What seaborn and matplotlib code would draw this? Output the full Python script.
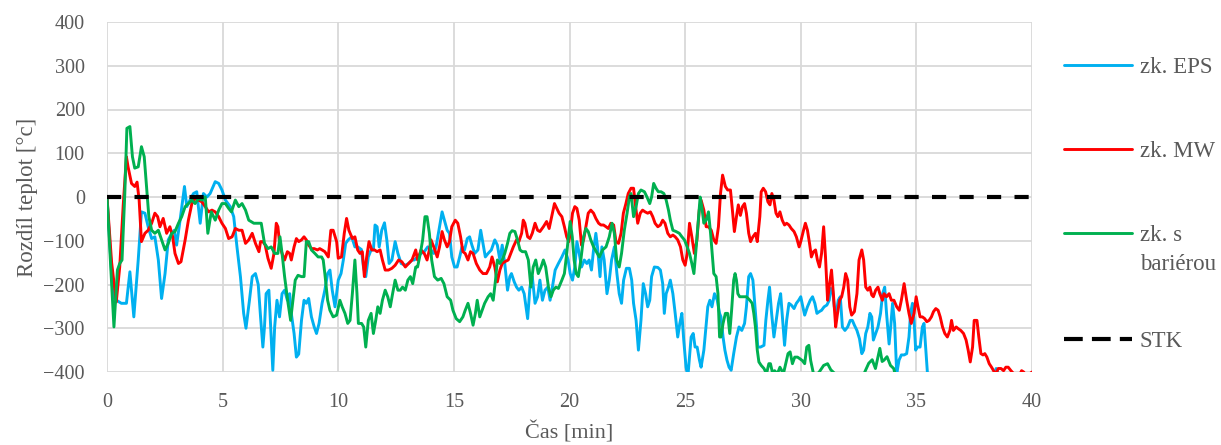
import matplotlib
matplotlib.use("Agg")
import matplotlib.pyplot as plt
from matplotlib.lines import Line2D
import pandas as pd
import seaborn as sns

# (cas [min], rozdil teplot [°C])
eps = [
    (0, 0), (0.26, -228), (0.41, -236), (0.62, -243), (0.84, -243), (0.99, -171), (1.16, -274),
    (1.35, -144), (1.49, -34), (1.64, -37), (1.78, -68), (1.93, -95), (2.07, -91), (2.22, -144),
    (2.36, -232), (2.51, -175), (2.65, -98), (2.80, -83), (2.91, -76), (3.01, -110), (3.16, -53),
    (3.35, 24), (3.45, -22), (3.59, -7), (3.74, 8), (3.88, 12), (4.03, -60), (4.17, 8), (4.32, 0),
    (4.46, 8), (4.68, 35), (4.83, 31), (4.97, 16), (5.12, -7), (5.33, -22), (5.48, -45),
    (5.62, -114), (5.77, -182), (5.91, -266), (6.01, -300), (6.16, -236), (6.28, -182),
    (6.42, -175), (6.54, -200), (6.64, -274), (6.74, -343), (6.81, -297), (6.88, -221),
    (7.00, -213), (7.10, -320), (7.17, -396), (7.25, -297), (7.35, -236), (7.46, -274),
    (7.57, -221), (7.68, -213), (7.80, -236), (7.90, -221), (7.97, -266), (8.09, -312),
    (8.19, -366), (8.29, -359), (8.41, -282), (8.52, -236), (8.62, -243), (8.72, -232),
    (8.84, -274), (8.96, -297), (9.06, -312), (9.17, -289), (9.30, -243), (9.42, -213),
    (9.54, -175), (9.64, -167), (9.74, -213), (9.86, -251), (10.00, -190), (10.12, -175),
    (10.22, -144), (10.32, -106), (10.43, -98), (10.58, -91), (10.72, -114), (10.84, -114),
    (11.00, -120), (11.09, -160), (11.19, -182), (11.30, -137), (11.42, -121), (11.52, -121),
    (11.59, -64), (11.68, -68), (11.77, -114), (11.88, -76), (12.00, -59), (12.10, -98),
    (12.20, -152), (12.32, -144), (12.46, -102), (12.58, -129), (12.72, -152), (12.90, -156),
    (13.04, -152), (13.19, -144), (13.29, -144), (13.43, -137), (13.58, -129), (13.72, -125),
    (13.87, -114), (14.01, -121), (14.13, -129), (14.23, -114), (14.38, -68), (14.49, -34),
    (14.59, -53), (14.71, -76), (14.81, -83), (14.91, -137), (15.03, -160), (15.14, -160),
    (15.25, -137), (15.35, -114), (15.46, -121), (15.58, -95), (15.68, -91), (15.78, -110),
    (15.90, -129), (16.04, -121), (16.16, -76), (16.26, -106), (16.36, -137), (16.48, -129),
    (16.62, -121), (16.77, -98), (16.88, -110), (16.99, -144), (17.09, -110), (17.20, -152),
    (17.32, -213), (17.42, -182), (17.49, -175), (17.61, -194), (17.71, -206), (17.81, -213),
    (17.93, -206), (18.04, -221), (18.19, -278), (18.29, -206), (18.39, -182), (18.51, -243),
    (18.62, -228), (18.72, -190), (18.83, -236), (18.94, -213), (19.06, -206), (19.16, -236),
    (19.26, -206), (19.38, -167), (19.52, -152), (19.67, -137), (19.81, -121), (19.94, -144),
    (20.03, -175), (20.13, -190), (20.23, -160), (20.32, -102), (20.42, -129), (20.52, -160),
    (20.64, -144), (20.75, -152), (20.85, -144), (20.95, -167), (21.04, -121), (21.14, -83),
    (21.21, -114), (21.32, -182), (21.40, -114), (21.50, -144), (21.62, -221), (21.72, -190),
    (21.82, -144), (21.94, -114), (22.05, -175), (22.15, -221), (22.25, -243), (22.34, -190),
    (22.46, -163), (22.59, -163), (22.69, -190), (22.77, -243), (22.88, -282), (22.98, -350),
    (23.09, -282), (23.19, -198), (23.29, -221), (23.38, -251), (23.47, -236), (23.55, -182),
    (23.67, -160), (23.82, -161), (23.93, -167), (24.03, -198), (24.10, -266), (24.18, -221),
    (24.28, -206), (24.36, -190), (24.47, -221), (24.57, -266), (24.68, -320), (24.77, -289),
    (24.86, -266), (24.94, -327), (25.04, -389), (25.12, -410), (25.19, -366), (25.26, -320),
    (25.35, -312), (25.43, -343), (25.52, -343), (25.62, -373), (25.69, -389), (25.81, -350),
    (25.90, -297), (25.98, -251), (26.07, -236), (26.16, -251), (26.27, -221), (26.39, -236),
    (26.49, -266), (26.55, -274), (26.64, -320), (26.72, -350), (26.81, -373), (26.90, -389),
    (26.99, -396), (27.10, -358), (27.22, -320), (27.33, -297), (27.45, -305), (27.57, -289),
    (27.65, -251), (27.75, -182), (27.83, -175), (27.93, -190), (28.00, -236), (28.09, -297),
    (28.14, -343), (28.26, -343), (28.41, -339), (28.49, -282), (28.58, -236), (28.65, -206),
    (28.74, -266), (28.84, -320), (28.94, -282), (29.04, -243), (29.13, -221), (29.22, -282),
    (29.30, -339), (29.39, -282), (29.49, -243), (29.59, -247), (29.71, -255), (29.81, -243),
    (29.91, -236), (30.00, -228), (30.09, -251), (30.17, -270), (30.29, -251), (30.41, -236),
    (30.51, -228), (30.61, -243), (30.70, -266), (30.80, -262), (30.90, -259), (31.01, -251),
    (31.13, -247), (31.23, -236), (31.30, -209), (31.38, -213), (31.45, -251), (31.54, -266),
    (31.62, -236), (31.71, -228), (31.80, -297), (31.91, -305), (32.03, -297), (32.14, -282),
    (32.23, -282), (32.32, -293), (32.43, -305), (32.54, -324), (32.64, -358), (32.72, -350),
    (32.81, -312), (32.90, -297), (32.99, -266), (33.07, -274), (33.14, -327), (33.24, -312),
    (33.34, -297), (33.45, -266), (33.54, -221), (33.63, -206), (33.71, -266), (33.82, -336),
    (33.89, -297), (33.97, -243), (34.06, -289), (34.15, -404), (34.25, -373), (34.35, -361),
    (34.47, -361), (34.58, -358), (34.68, -320), (34.75, -266), (34.83, -243), (34.90, -282),
    (34.97, -350), (35.04, -343), (35.16, -343), (35.26, -297), (35.33, -289), (35.40, -343),
    (35.48, -404), (35.60, -450), (36.5, -480), (38.3, -420), (38.45, -392), (38.55, -405),
    (38.7, -440), (40.0, -460),
]

mw = [
    (0, 0), (0.2, -150), (0.4, -240), (0.55, -160), (0.7, -20), (0.84, 92), (0.91, 69),
    (1.06, 31), (1.20, 24), (1.30, 34), (1.39, -7), (1.49, -102), (1.64, -83), (1.78, -76),
    (1.93, -60), (2.07, -37), (2.19, -45), (2.29, -68), (2.43, -49), (2.58, -83), (2.72, -68),
    (2.84, -91), (2.94, -129), (3.09, -152), (3.20, -148), (3.38, -98), (3.52, -53), (3.67, -15),
    (3.81, -3), (3.96, -7), (4.10, -11), (4.25, -22), (4.39, -34), (4.54, -30), (4.68, -34),
    (4.83, -45), (4.97, -60), (5.12, -72), (5.26, -95), (5.41, -91), (5.55, -72), (5.70, -76),
    (5.84, -76), (5.99, -106), (6.13, -98), (6.28, -83), (6.42, -106), (6.57, -125),
    (6.64, -102), (6.74, -102), (6.84, -110), (6.96, -140), (7.10, -163), (7.22, -129),
    (7.32, -60), (7.39, -68), (7.48, -114), (7.57, -129), (7.68, -144), (7.80, -125),
    (7.90, -129), (7.97, -144), (8.09, -114), (8.19, -95), (8.29, -102), (8.41, -98),
    (8.52, -91), (8.62, -98), (8.72, -110), (8.84, -118), (8.96, -118), (9.10, -121),
    (9.20, -118), (9.30, -121), (9.42, -125), (9.57, -137), (9.68, -76), (9.78, -76),
    (9.93, -102), (10.00, -140), (10.14, -137), (10.26, -83), (10.36, -49), (10.46, -76),
    (10.61, -95), (10.72, -91), (10.84, -121), (10.94, -129), (11.04, -125), (11.13, -182),
    (11.23, -137), (11.33, -102), (11.45, -121), (11.57, -121), (11.68, -125), (11.81, -121),
    (11.91, -144), (12.03, -167), (12.17, -167), (12.32, -163), (12.46, -156), (12.61, -144),
    (12.75, -148), (12.90, -160), (13.04, -152), (13.19, -144), (13.35, -121), (13.43, -144),
    (13.58, -121), (13.72, -129), (13.84, -144), (13.94, -121), (14.01, -98), (14.13, -114),
    (14.28, -137), (14.38, -114), (14.49, -79), (14.59, -98), (14.71, -114), (14.81, -102),
    (14.91, -68), (15.06, -53), (15.17, -60), (15.29, -91), (15.39, -125), (15.49, -129),
    (15.61, -144), (15.72, -125), (15.83, -129), (15.97, -152), (16.12, -167), (16.26, -175),
    (16.41, -175), (16.55, -160), (16.65, -137), (16.77, -160), (16.88, -194), (16.99, -167),
    (17.09, -152), (17.20, -148), (17.35, -144), (17.46, -129), (17.57, -114), (17.71, -98),
    (17.81, -102), (17.93, -83), (18.00, -53), (18.07, -60), (18.19, -91), (18.29, -95),
    (18.39, -83), (18.51, -60), (18.62, -76), (18.72, -79), (18.87, -68), (19.01, -56),
    (19.12, -72), (19.23, -45), (19.35, -15), (19.45, -26), (19.55, -37), (19.67, -45),
    (19.78, -68), (19.88, -91), (19.97, -102), (20.03, -83), (20.13, -37), (20.23, -22),
    (20.32, -26), (20.42, -53), (20.52, -110), (20.61, -98), (20.71, -68), (20.81, -37),
    (20.92, -30), (21.04, -37), (21.14, -49), (21.26, -60), (21.36, -64), (21.47, -64),
    (21.58, -68), (21.68, -72), (21.79, -60), (21.91, -64), (22.01, -102), (22.12, -106),
    (22.23, -83), (22.33, -37), (22.44, -15), (22.54, 8), (22.66, 20), (22.77, 20),
    (22.86, -22), (22.95, -60), (23.06, -37), (23.16, -30), (23.27, -34), (23.38, -37),
    (23.50, -34), (23.60, -45), (23.70, -60), (23.82, -68), (23.93, -64), (24.03, -53),
    (24.13, -60), (24.25, -83), (24.36, -91), (24.47, -87), (24.57, -91), (24.68, -98),
    (24.80, -114), (24.90, -144), (25.00, -156), (25.09, -129), (25.19, -60), (25.29, -91),
    (25.40, -129), (25.51, -98), (25.61, -30), (25.69, -7), (25.81, -30), (25.91, -68),
    (26.01, -68), (26.13, -76), (26.24, -98), (26.34, -106), (26.44, -68), (26.53, 8),
    (26.62, 50), (26.74, 24), (26.84, 16), (26.96, 16), (27.03, -22), (27.13, -79),
    (27.22, -45), (27.30, -18), (27.39, -42), (27.48, -22), (27.57, -15), (27.65, -37),
    (27.75, -83), (27.83, -102), (27.93, -91), (28.04, -83), (28.12, -102), (28.23, -45),
    (28.29, 12), (28.38, 20), (28.48, 12), (28.58, -11), (28.67, -18), (28.75, 8),
    (28.84, -7), (28.93, -37), (29.01, -45), (29.10, -34), (29.20, -53), (29.30, -64),
    (29.39, -60), (29.49, -64), (29.59, -72), (29.71, -79), (29.81, -91), (29.93, -114),
    (30.00, -102), (30.12, -76), (30.20, -60), (30.29, -76), (30.38, -106), (30.46, -137),
    (30.55, -125), (30.64, -121), (30.72, -144), (30.81, -160), (30.90, -129), (30.99, -68),
    (31.07, -137), (31.16, -236), (31.23, -206), (31.33, -167), (31.42, -228), (31.51, -297),
    (31.59, -266), (31.68, -236), (31.77, -228), (31.86, -206), (31.94, -175), (32.03, -190),
    (32.12, -251), (32.20, -270), (32.32, -262), (32.43, -221), (32.52, -144), (32.64, -121),
    (32.72, -144), (32.81, -206), (32.90, -213), (32.99, -206), (33.07, -224), (33.14, -228),
    (33.24, -213), (33.34, -206), (33.42, -221), (33.53, -236), (33.60, -221), (33.71, -228),
    (33.82, -221), (33.92, -236), (34.03, -236), (34.15, -251), (34.26, -259), (34.35, -236),
    (34.47, -198), (34.58, -236), (34.68, -266), (34.78, -289), (34.90, -266), (34.99, -228),
    (35.07, -251), (35.16, -274), (35.26, -274), (35.36, -278), (35.45, -285), (35.55, -282),
    (35.65, -274), (35.74, -262), (35.84, -255), (35.94, -259), (36.03, -274), (36.13, -297),
    (36.23, -312), (36.34, -320), (36.45, -305), (36.52, -282), (36.60, -305), (36.72, -297),
    (36.81, -301), (36.92, -305), (37.04, -312), (37.15, -327), (37.24, -350), (37.33, -377),
    (37.43, -343), (37.50, -282), (37.62, -282), (37.70, -320), (37.79, -358), (37.88, -361),
    (37.96, -358), (38.05, -366), (38.15, -381), (38.25, -389), (38.37, -400), (38.44, -404),
    (38.54, -392), (38.66, -392), (38.77, -397), (38.87, -389), (38.97, -389), (39.09, -397),
    (39.21, -404), (39.32, -408), (39.45, -408), (39.55, -397), (39.64, -400), (39.74, -408),
    (39.88, -405), (40.0, -400),
]

bariera = [
    (0, 0), (0.30, -297), (0.45, -167), (0.55, -152), (0.65, -144), (0.77, 8), (0.86, 157),
    (0.99, 161), (1.10, 92), (1.20, 66), (1.35, 69), (1.49, 115), (1.61, 92), (1.71, 24),
    (1.81, -45), (1.93, -76), (2.07, -83), (2.22, -76), (2.36, -98), (2.51, -121), (2.65, -106),
    (2.80, -83), (2.94, -79), (3.09, -60), (3.23, -45), (3.38, -22), (3.52, -15), (3.67, -7),
    (3.81, -15), (3.96, -3), (4.10, -7), (4.25, 0), (4.36, -83), (4.51, -34), (4.68, -53),
    (4.83, -30), (4.97, -15), (5.12, -15), (5.26, -26), (5.38, -34), (5.55, -7), (5.70, -22),
    (5.84, -15), (5.99, -30), (6.13, -53), (6.35, -60), (6.57, -60), (6.67, -60), (6.81, -106),
    (6.96, -118), (7.10, -114), (7.25, -129), (7.39, -129), (7.48, -91), (7.57, -129),
    (7.68, -182), (7.83, -243), (7.94, -282), (8.04, -236), (8.14, -190), (8.26, -179),
    (8.41, -182), (8.52, -182), (8.62, -102), (8.72, -102), (8.84, -121), (8.99, -129),
    (9.13, -137), (9.28, -137), (9.35, -144), (9.42, -175), (9.54, -236), (9.64, -259),
    (9.78, -274), (9.93, -270), (10.07, -236), (10.17, -251), (10.29, -266), (10.41, -289),
    (10.51, -282), (10.61, -221), (10.72, -144), (10.81, -221), (10.87, -289), (11.01, -289),
    (11.10, -297), (11.19, -343), (11.30, -282), (11.42, -266), (11.52, -312), (11.62, -282),
    (11.71, -251), (11.81, -266), (11.91, -236), (12.03, -213), (12.14, -228), (12.25, -251),
    (12.35, -221), (12.46, -190), (12.58, -213), (12.68, -213), (12.78, -206), (12.90, -213),
    (13.01, -190), (13.12, -182), (13.22, -198), (13.35, -160), (13.43, -160), (13.55, -129),
    (13.65, -98), (13.75, -45), (13.84, -45), (13.94, -83), (14.04, -144), (14.16, -182),
    (14.30, -190), (14.45, -186), (14.57, -198), (14.71, -228), (14.86, -236), (14.96, -259),
    (15.10, -278), (15.25, -285), (15.39, -274), (15.49, -259), (15.61, -243), (15.72, -266),
    (15.83, -293), (15.93, -266), (16.01, -236), (16.12, -274), (16.22, -259), (16.33, -243),
    (16.48, -228), (16.59, -221), (16.70, -236), (16.80, -190), (16.88, -144), (16.99, -152),
    (17.09, -144), (17.20, -129), (17.32, -106), (17.42, -83), (17.52, -77), (17.64, -79),
    (17.75, -98), (17.86, -121), (17.96, -125), (18.10, -125), (18.22, -144), (18.33, -206),
    (18.43, -160), (18.54, -144), (18.65, -175), (18.77, -160), (18.87, -144), (18.97, -160),
    (19.09, -206), (19.20, -228), (19.30, -213), (19.41, -206), (19.52, -209), (19.67, -190),
    (19.78, -175), (19.88, -129), (19.97, -83), (20.03, -56), (20.12, -91), (20.20, -144),
    (20.29, -175), (20.38, -182), (20.49, -144), (20.61, -91), (20.71, -72), (20.81, -79),
    (20.92, -98), (21.04, -114), (21.16, -125), (21.29, -137), (21.43, -121), (21.58, -114),
    (21.72, -91), (21.84, -60), (21.94, -83), (22.04, -144), (22.15, -160), (22.25, -129),
    (22.37, -76), (22.49, -37), (22.59, 0), (22.66, 8), (22.77, -45), (22.88, -22), (22.98, 8),
    (23.09, 16), (23.24, 12), (23.35, 0), (23.47, -15), (23.55, 0), (23.64, 31), (23.74, 20),
    (23.84, 12), (23.96, 12), (24.08, 8), (24.18, -7), (24.28, -30), (24.36, -53), (24.47, -76),
    (24.61, -79), (24.75, -83), (24.86, -91), (24.97, -98), (25.09, -114), (25.19, -129),
    (25.29, -152), (25.38, -175), (25.48, -114), (25.58, -45), (25.65, 0), (25.72, -22),
    (25.81, -60), (25.91, -53), (26.01, -34), (26.10, -83), (26.17, -129), (26.24, -175),
    (26.34, -182), (26.42, -221), (26.49, -320), (26.55, -320), (26.64, -289), (26.74, -266),
    (26.84, -266), (26.93, -312), (27.01, -259), (27.10, -190), (27.16, -175), (27.22, -190),
    (27.28, -221), (27.36, -228), (27.51, -228), (27.65, -228), (27.80, -236), (27.90, -243),
    (27.97, -266), (28.04, -297), (28.12, -350), (28.19, -377), (28.29, -385), (28.41, -392),
    (28.52, -404), (28.62, -381), (28.69, -381), (28.77, -400), (28.87, -397), (28.99, -404),
    (29.10, -389), (29.25, -404), (29.35, -381), (29.45, -358), (29.54, -354), (29.64, -381),
    (29.74, -366), (29.86, -366), (29.97, -370), (30.07, -374), (30.17, -381), (30.26, -343),
    (30.35, -339), (30.43, -374), (30.55, -404), (30.65, -408), (30.80, -400), (30.99, -385),
    (31.16, -381), (31.30, -395), (31.50, -405), (31.74, -404), (32.00, -420), (32.40, -415),
    (32.70, -408), (32.94, -380), (33.09, -372), (33.23, -392), (33.42, -346), (33.52, -376),
    (33.60, -373), (33.73, -365), (33.88, -385), (34.02, -392), (34.20, -430),
]

stk = [(0, 0), (40, 0)]

labels = ["zk. EPS", "zk. MW", "zk. s", "STK"]
colors = ["#00B0F0", "#FF0000", "#00B050", "#000000"]
text_grey = "#595959"

sns.set_theme(style="whitegrid")
plt.rcParams["font.family"] = ["Liberation Serif", "DejaVu Serif"]

frames = []
for name, pts in zip(labels[:3], [eps, mw, bariera]):
    frames.append(pd.DataFrame(pts, columns=["cas", "rozdil"]).assign(serie=name))
df = pd.concat(frames, ignore_index=True)
df_stk = pd.DataFrame(stk, columns=["cas", "rozdil"])

fig = plt.figure(figsize=(12.21, 4.45), dpi=100)
ax = fig.add_axes([107 / 1221, 1 - 372 / 445, 925 / 1221, 350 / 445])

sns.lineplot(data=df, x="cas", y="rozdil", hue="serie", hue_order=labels[:3],
             palette=colors[:3], linewidth=2.1, sort=False, estimator=None,
             legend=False, ax=ax)
sns.lineplot(data=df_stk, x="cas", y="rozdil", color="black", linewidth=3.0,
             linestyle=(0, (3.4, 3.2)), legend=False, ax=ax)

ax.set_xlim(0, 40)
ax.set_ylim(-400, 400)
ax.set_xticks(range(0, 41, 5))
ax.set_yticks(range(-400, 401, 100))
ax.grid(True, color="#d9d9d9", linewidth=1.3)
for s in ax.spines.values():
    s.set_visible(False)
ax.tick_params(axis="both", length=0, labelsize=14.5, labelcolor=text_grey)
ax.tick_params(axis="y", pad=16)
ax.tick_params(axis="x", pad=15)

ax.set_xlabel("Čas [min]", fontsize=16, color=text_grey)
ax.set_ylabel("Rozdíl teplot [°c]", fontsize=16.5, color=text_grey)
ax.xaxis.set_label_coords(0.5, -0.14)
ax.yaxis.set_label_coords(-0.075, 0.5)

# legend: three series rows, then "bariérou" second line and the STK row
leg_kw = dict(frameon=False, fontsize=16.5, labelcolor=text_grey, handlelength=2.95,
              handletextpad=0.35, borderpad=0, borderaxespad=0)
handles = [Line2D([], [], color=c, linewidth=2.1) for c in colors[:3]]
fig.legend(handles, labels[:3], loc="upper left",
           bbox_to_anchor=(1064 / 1221, 1 - 57 / 445), labelspacing=2.75, **leg_kw)
stk_handle = Line2D([], [], color="black", linewidth=3.0, linestyle=(0, (4.5, 2.2)))
fig.legend([stk_handle], labels[3:], loc="upper left",
           bbox_to_anchor=(1064 / 1221, 1 - 331 / 445), **leg_kw)
fig.text(1140 / 1221, 1 - 265 / 445, "bariérou", fontsize=16.5, color=text_grey,
         ha="left", va="center")

fig.savefig("out.png", dpi=100, facecolor="white")
